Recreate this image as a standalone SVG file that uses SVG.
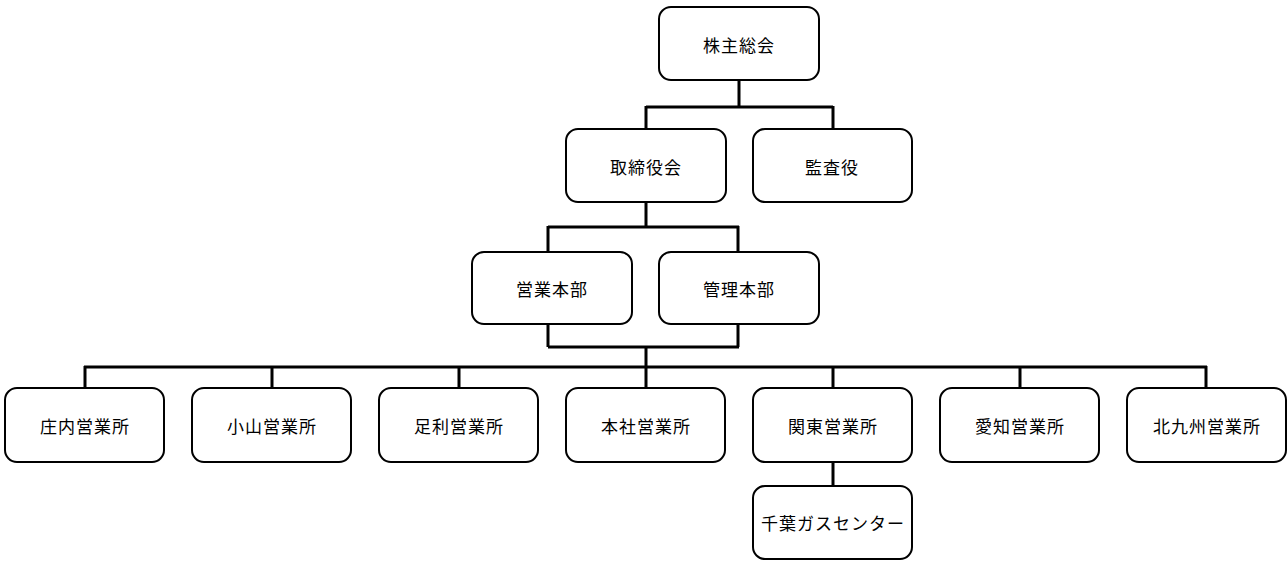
<svg xmlns="http://www.w3.org/2000/svg" width="1288" height="563" viewBox="0 0 1288 563">
<style>
.box{fill:#fff;stroke:#000;stroke-width:2}
.lbl{font-family:"Noto Sans CJK JP","Noto Sans",sans-serif;font-size:17px;fill:#000;text-anchor:middle;dominant-baseline:central;letter-spacing:1px}
.ln{fill:none;stroke:#000;stroke-width:3}
</style>
<rect width="1288" height="563" fill="#fff"/>
<g id="connectors">
<path class="ln" d="M739 80V107M646 107H833M646 106V129M833 106V129"/>
<path class="ln" d="M646 202V227M548 227H739M548 226V252M738 226V252"/>
<path class="ln" d="M548 324V347M738 324V347M548 347H739M646 347V367"/>
<path class="ln" d="M84 367H1207M85 366V388M272 366V388M459 366V388M646 366V388M833 366V388M1020 366V388M1206 366V388"/>
<path class="ln" d="M833 462V486"/>
</g>
<g id="n1"><rect class="box" x="659" y="7" width="160" height="73" rx="12"/><text class="lbl" x="739" y="44">株主総会</text></g>
<g id="n2"><rect class="box" x="566" y="129" width="160" height="73" rx="12"/><text class="lbl" x="646" y="166">取締役会</text></g>
<g id="n3"><rect class="box" x="753" y="129" width="159" height="73" rx="12"/><text class="lbl" x="832" y="166">監査役</text></g>
<g id="n4"><rect class="box" x="472" y="252" width="160" height="72" rx="12"/><text class="lbl" x="552" y="288">営業本部</text></g>
<g id="n5"><rect class="box" x="659" y="252" width="160" height="72" rx="12"/><text class="lbl" x="739" y="288">管理本部</text></g>
<g id="n6"><rect class="box" x="5" y="388" width="159" height="74" rx="12"/><text class="lbl" x="85" y="425">庄内営業所</text></g>
<g id="n7"><rect class="box" x="192" y="388" width="159" height="74" rx="12"/><text class="lbl" x="272" y="425">小山営業所</text></g>
<g id="n8"><rect class="box" x="379" y="388" width="159" height="74" rx="12"/><text class="lbl" x="459" y="425">足利営業所</text></g>
<g id="n9"><rect class="box" x="566" y="388" width="159" height="74" rx="12"/><text class="lbl" x="646" y="425">本社営業所</text></g>
<g id="n10"><rect class="box" x="753" y="388" width="159" height="74" rx="12"/><text class="lbl" x="833" y="425">関東営業所</text></g>
<g id="n11"><rect class="box" x="940" y="388" width="159" height="74" rx="12"/><text class="lbl" x="1020" y="425">愛知営業所</text></g>
<g id="n12"><rect class="box" x="1127" y="388" width="159" height="74" rx="12"/><text class="lbl" x="1207" y="425">北九州営業所</text></g>
<g id="n13"><rect class="box" x="753" y="486" width="159" height="73" rx="12"/><text class="lbl" x="833" y="522">千葉ガスセンター</text></g>
</svg>
